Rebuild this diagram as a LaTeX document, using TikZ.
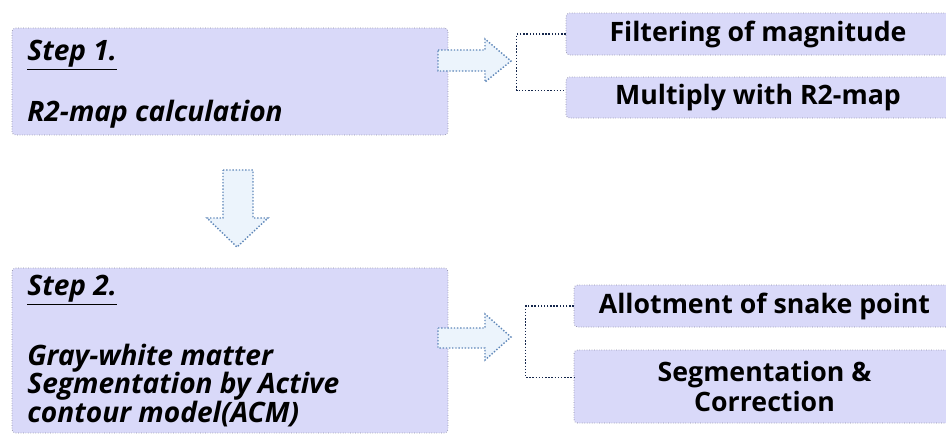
\documentclass[tikz,border=0pt]{standalone}
\usepackage{fontspec}
\setmainfont{Open Sans}
\usepackage{tikz}
\usetikzlibrary{calc}
\definecolor{boxlav}{RGB}{217,217,249}
\definecolor{boxedge}{RGB}{140,140,165}
\definecolor{arrowfill}{RGB}{236,244,252}
\definecolor{arrowedge}{RGB}{95,135,185}
\definecolor{bracketnavy}{RGB}{20,38,75}

\begin{document}
\begin{tikzpicture}[x=0.02cm, y=-0.02cm,
  stepbox/.style={draw=boxedge, densely dotted, fill=boxlav, rounded corners=2pt, minimum width=8.72cm, inner sep=0pt},
  subbox/.style={draw=boxedge, densely dotted, fill=boxlav, rounded corners=2pt, inner sep=0pt, align=center, font=\bfseries\fontsize{15.2}{17}\selectfont},
  steptext/.style={anchor=base west, inner sep=0pt, align=left, font=\bfseries\itshape\fontsize{16}{16.2}\selectfont},
  blockarrow/.style={draw=arrowedge, densely dotted, thick, fill=arrowfill},
  bracket/.style={draw=bracketnavy, densely dotted, thick}]

% Canvas
\useasboundingbox (0,0) rectangle (946,434);
\fill[white] (0,0) rectangle (946,434);
\clip (0,0) rectangle (946,434);

% Step boxes
\node[stepbox, minimum height=2.14cm] (step1) at (230,81.5) {};
\node[stepbox, minimum height=3.3cm] (step2) at (230,350.5) {};

\node[steptext] (s1head) at (27,60) {\underline{Step 1.}};
\node[steptext] (s1body) at (27,121) {R2-map calculation};
\node[steptext] (s2head) at (27,295) {\underline{Step 2.}};
% base of a multi-line node sits on its last line
\node[steptext] (s2body) at (27,422) {Gray-white matter\\Segmentation by Active\\contour model(ACM)};

% Sub-task boxes
\node[subbox, minimum width=7.68cm, minimum height=0.84cm] (filt) at (758,34) {Filtering of magnitude};
\node[subbox, minimum width=7.68cm, minimum height=0.82cm] (mult) at (758,97.5) {Multiply with R2-map};
\node[subbox, minimum width=7.62cm, minimum height=0.84cm] (allot) at (764.5,306) {Allotment of snake point};
\node[subbox, minimum width=7.62cm, minimum height=1.46cm] (segcorr) at (764.5,386.5) {Segmentation \&\\Correction};

% Block arrows
\draw[blockarrow] (438,50) -- (485,50) -- (485,39) -- (511,61) -- (485,82) -- (485,71) -- (438,71) -- cycle;
\draw[blockarrow] (223,170) -- (253,170) -- (253,218) -- (268,218) -- (237,247) -- (207,218) -- (223,218) -- cycle;
\draw[blockarrow] (438,328) -- (485,328) -- (485,314) -- (511,337) -- (485,360) -- (485,348) -- (438,348) -- cycle;

% Brackets
\draw[bracket] (filt.west) -- ++(-49,0) |- ([yshift=4pt]mult.west);
\draw[bracket] (allot.west) -- ++(-48,0) |- ([yshift=5pt]segcorr.west);

\end{tikzpicture}
\end{document}
